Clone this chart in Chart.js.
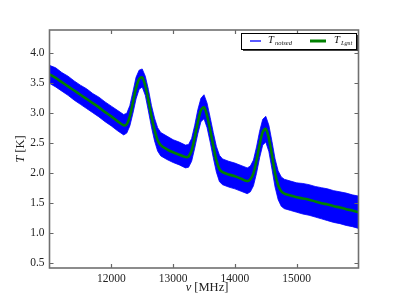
<!DOCTYPE html>
<html>
<head>
<meta charset="utf-8">
<script src="https://cdn.jsdelivr.net/npm/chart.js"></script>
</head>
<body style="margin:0;padding:0;background:#fff;">
<div style="width:399px;height:299px;position:relative;">
  <canvas id="specChart" width="399" height="299"></canvas>
</div>
<script>
// frequency grid [MHz]
const freq = [11000,11100,11200,11300,11400,11500,11600,11700,11800,11900,12000,12100,12200,
  12250,12300,12350,12400,12450,12500,12550,12600,12650,12700,12750,12800,
  12900,13000,13100,13200,
  13250,13300,13350,13400,13450,13500,13550,13600,13650,13700,13750,13800,
  13900,14000,14100,14200,
  14250,14300,14350,14400,14450,14500,14550,14600,14650,14700,14750,14800,
  14900,15000,15100,15200,15300,15400,15500,15600,15700,15800,15900,16000];

// fitted temperature (green)
const tFit = [3.65,3.59,3.52,3.45,3.38,3.31,3.24,3.17,3.10,3.02,2.95,2.87,2.80,
  2.82,2.95,3.18,3.42,3.57,3.60,3.46,3.22,2.95,2.72,2.55,2.47,
  2.40,2.35,2.31,2.27,
  2.28,2.38,2.60,2.85,3.05,3.10,2.96,2.72,2.46,2.22,2.07,2.02,
  1.98,1.95,1.91,1.87,
  1.90,2.00,2.22,2.48,2.69,2.74,2.58,2.30,2.00,1.80,1.70,1.66,
  1.63,1.60,1.58,1.56,1.53,1.50,1.48,1.45,1.43,1.40,1.38,1.35];

// noisy measurement, upper / lower edge of the blue band
const tNoisyHi = [3.80,3.76,3.68,3.62,3.54,3.47,3.41,3.33,3.27,3.19,3.12,3.05,2.98,
  3.00,3.13,3.36,3.60,3.72,3.74,3.62,3.40,3.13,2.92,2.76,2.68,
  2.62,2.56,2.52,2.47,
  2.48,2.58,2.80,3.06,3.25,3.31,3.17,2.93,2.68,2.45,2.30,2.24,
  2.20,2.17,2.13,2.09,
  2.12,2.22,2.44,2.70,2.90,2.95,2.80,2.53,2.24,2.04,1.94,1.90,
  1.87,1.84,1.83,1.81,1.78,1.76,1.74,1.71,1.69,1.67,1.64,1.62];
const tNoisyLo = [3.50,3.44,3.37,3.30,3.22,3.15,3.08,3.01,2.94,2.86,2.79,2.71,2.64,
  2.67,2.79,3.00,3.24,3.40,3.44,3.30,3.04,2.77,2.54,2.37,2.29,
  2.23,2.18,2.14,2.09,
  2.10,2.20,2.42,2.66,2.86,2.91,2.76,2.52,2.26,2.02,1.86,1.81,
  1.77,1.74,1.70,1.66,
  1.69,1.79,2.00,2.26,2.47,2.52,2.36,2.07,1.77,1.56,1.45,1.41,
  1.38,1.35,1.32,1.30,1.27,1.24,1.21,1.18,1.16,1.13,1.11,1.08];

const xTicks = [12000, 13000, 14000, 15000];
const yTicks = [0.5, 1.0, 1.5, 2.0, 2.5, 3.0, 3.5, 4.0];

const pts = arr => arr.map((v, i) => ({x: freq[i], y: v}));
const serif = '"Liberation Serif", "DejaVu Serif", serif';

// frame, inward ticks, axis titles and legend drawn like matplotlib
const decor = {
  id: 'decor',
  afterDraw(chart) {
    const c = chart.ctx, a = chart.chartArea;
    const xs = chart.scales.x, ys = chart.scales.y;
    c.save();
    c.strokeStyle = '#666';
    c.lineWidth = 1.2;
    c.beginPath();
    xTicks.forEach(v => {
      const p = Math.round(xs.getPixelForValue(v)) + 0.5;
      c.moveTo(p, a.bottom); c.lineTo(p, a.bottom - 4);
      c.moveTo(p, a.top); c.lineTo(p, a.top + 4);
    });
    yTicks.forEach(v => {
      const p = Math.round(ys.getPixelForValue(v)) + 0.5;
      c.moveTo(a.left, p); c.lineTo(a.left + 4, p);
      c.moveTo(a.right, p); c.lineTo(a.right - 4, p);
    });
    c.stroke();
    c.lineWidth = 1.6;
    c.strokeStyle = '#707070';
    c.strokeRect(a.left, a.top, a.right - a.left, a.bottom - a.top);

    // axis titles
    c.fillStyle = '#222';
    c.textBaseline = 'middle';
    c.font = 'italic 12.5px ' + serif;
    let w1 = c.measureText('ν').width;
    c.font = '12.5px ' + serif;
    let w2 = c.measureText(' [MHz]').width;
    let cx = (a.left + a.right) / 2 + 3 - (w1 + w2) / 2;
    c.font = 'italic 12.5px ' + serif;
    c.textAlign = 'left';
    c.fillText('ν', cx, 288);
    c.font = '12.5px ' + serif;
    c.fillText(' [MHz]', cx + w1, 288);

    c.save();
    c.translate(21, (a.top + a.bottom) / 2);
    c.rotate(-Math.PI / 2);
    c.font = 'italic 12.5px ' + serif;
    w1 = c.measureText('T').width;
    c.font = '12.5px ' + serif;
    w2 = c.measureText(' [K]').width;
    cx = -(w1 + w2) / 2;
    c.font = 'italic 12.5px ' + serif;
    c.fillText('T', cx, 0);
    c.font = '12.5px ' + serif;
    c.fillText(' [K]', cx + w1, 0);
    c.restore();

    // legend
    const lx = 241, ly = 33, lw = 115, lh = 16;
    c.fillStyle = '#444';
    c.fillRect(lx + 2, ly + 2, lw, lh);
    c.fillStyle = '#fff';
    c.fillRect(lx, ly, lw, lh);
    c.strokeStyle = '#000';
    c.lineWidth = 1;
    c.strokeRect(lx + 0.5, ly + 0.5, lw, lh);
    const my = ly + lh / 2;
    c.strokeStyle = '#0000ff';
    c.lineWidth = 1.3;
    c.beginPath(); c.moveTo(250, my); c.lineTo(261, my); c.stroke();
    c.strokeStyle = '#008000';
    c.lineWidth = 3;
    c.beginPath(); c.moveTo(310, my); c.lineTo(326, my); c.stroke();
    c.fillStyle = '#111';
    c.textAlign = 'left';
    c.font = 'italic 10.5px ' + serif;
    c.fillText('T', 268, my - 1);
    c.fillText('T', 334, my - 1);
    c.font = 'italic 6.5px ' + serif;
    c.fillText('noised', 275, my + 2);
    c.fillText('Lgst', 341, my + 2);
    c.restore();
  }
};

new Chart(document.getElementById('specChart'), {
  type: 'line',
  data: {
    datasets: [{
      label: 'T_noised upper',
      data: pts(tNoisyHi),
      borderColor: '#0000ff',
      borderWidth: 0.8,
      backgroundColor: '#0000ff',
      pointRadius: 0,
      fill: '+1',
      order: 2
    }, {
      label: 'T_noised lower',
      data: pts(tNoisyLo),
      borderColor: '#0000ff',
      borderWidth: 0.8,
      pointRadius: 0,
      fill: false,
      order: 2
    }, {
      label: 'T_Lgst',
      data: pts(tFit),
      borderColor: '#008000',
      borderWidth: 2.6,
      pointRadius: 0,
      tension: 0.3,
      fill: false,
      order: 1
    }]
  },
  options: {
    responsive: false,
    animation: false,
    events: [],
    layout: { padding: { left: 0, right: 40.5, top: 30, bottom: 0 } },
    plugins: { legend: { display: false }, tooltip: { enabled: false } },
    scales: {
      x: {
        type: 'linear',
        min: 11000,
        max: 16000,
        afterBuildTicks: s => { s.ticks = xTicks.map(v => ({value: v})); },
        afterFit: s => { s.height = 31; },
        grid: { display: false, drawTicks: false },
        border: { display: false },
        ticks: {
          padding: 4,
          color: '#222',
          font: { family: serif, size: 11.5 },
          callback: v => String(v)
        }
      },
      y: {
        min: 0.42,
        max: 4.39,
        afterBuildTicks: s => { s.ticks = yTicks.map(v => ({value: v})); },
        afterFit: s => { s.width = 49.5; },
        grid: { display: false, drawTicks: false },
        border: { display: false },
        ticks: {
          padding: 5,
          color: '#222',
          font: { family: serif, size: 11.5 },
          callback: v => v.toFixed(1)
        }
      }
    }
  },
  plugins: [decor]
});
</script>
</body>
</html>
